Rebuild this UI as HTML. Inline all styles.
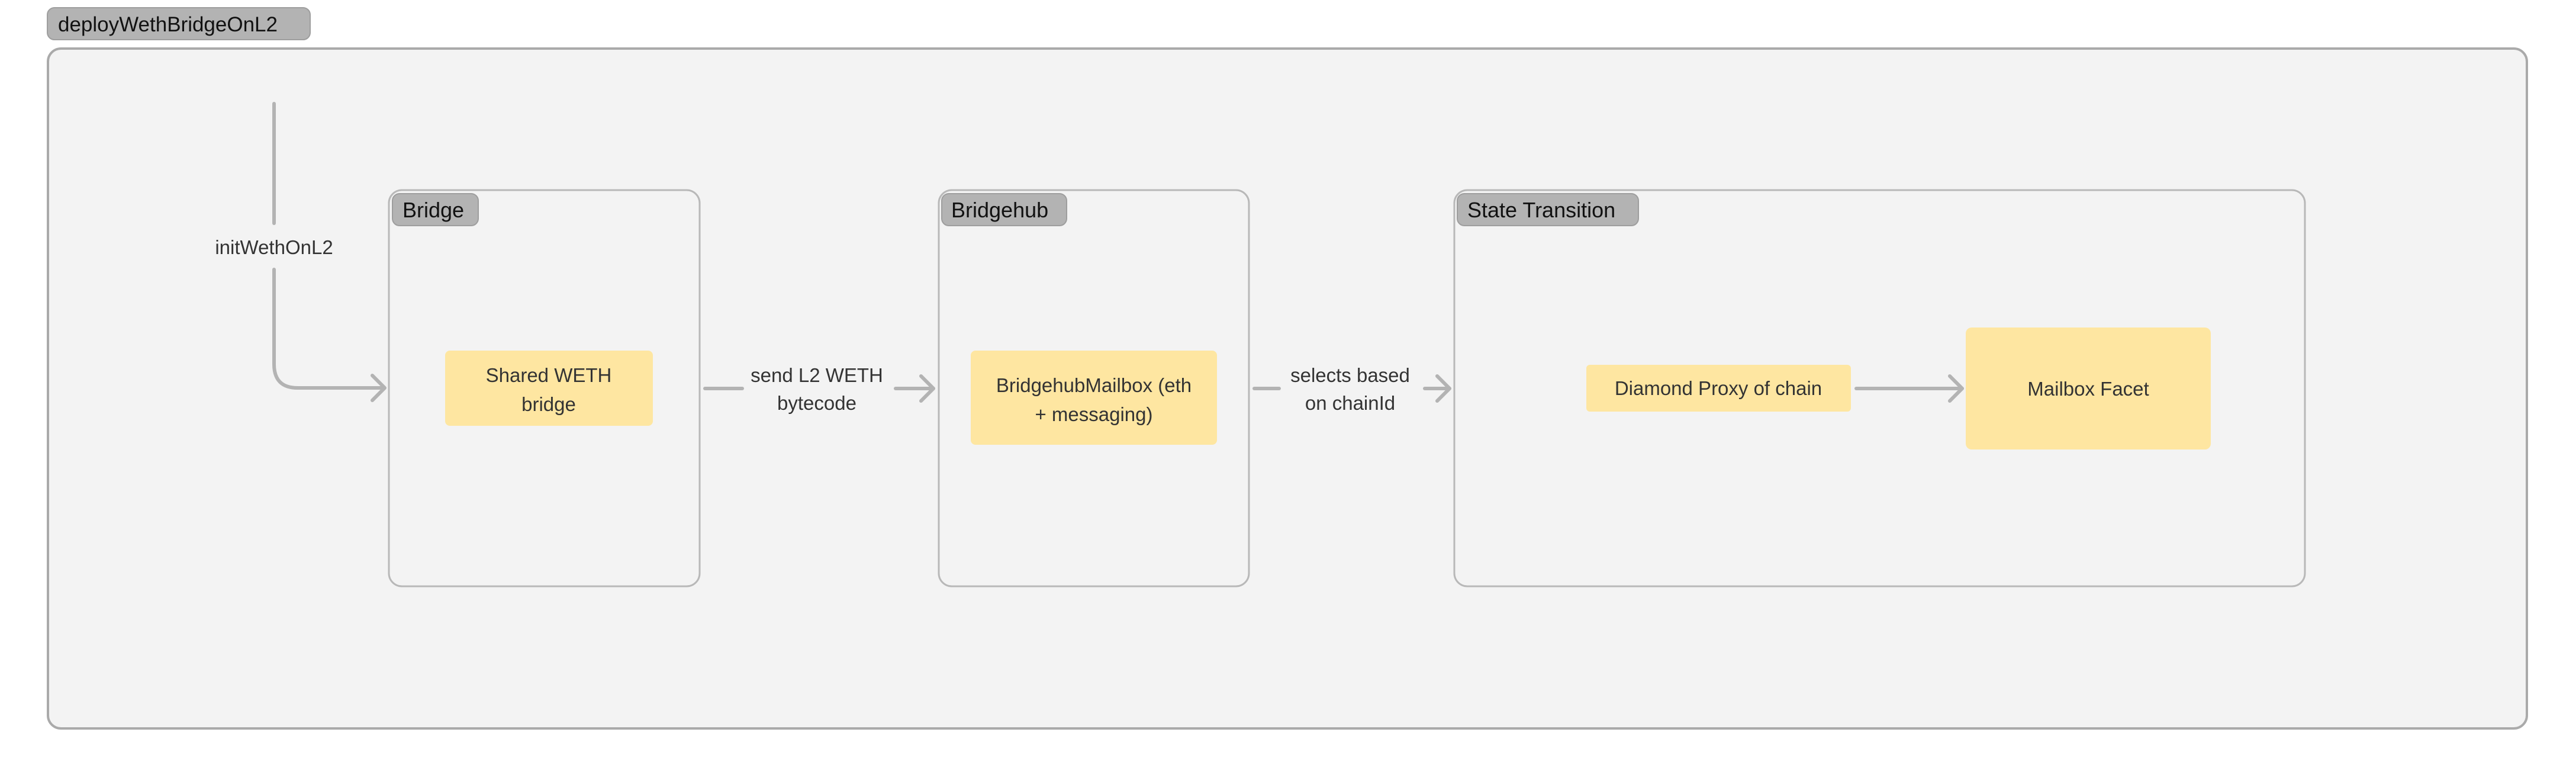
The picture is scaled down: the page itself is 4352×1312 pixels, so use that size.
<!DOCTYPE html>
<html><head><meta charset="utf-8"><style>
html,body{margin:0;padding:0;background:#fff;}
svg{display:block;}
text{font-family:"Liberation Sans",sans-serif;fill:#333;}
</style></head><body>
<svg width="4352" height="1312" viewBox="0 0 4352 1312" xmlns="http://www.w3.org/2000/svg">
<rect x="81" y="82" width="4188" height="1148" rx="22" fill="#f3f3f3" stroke="#aaaaaa" stroke-width="4"/>
<rect x="80" y="13" width="444" height="54" rx="12" fill="#b3b3b3" stroke="#9e9e9e" stroke-width="2"/>
<text x="98" y="53" font-size="35" style="fill:#111">deployWethBridgeOnL2</text>

<rect x="657" y="321" width="525" height="669" rx="22" fill="#f3f3f3" stroke="#b8b8b8" stroke-width="3"/>
<rect x="663" y="327" width="145" height="54" rx="12" fill="#b3b3b3" stroke="#9e9e9e" stroke-width="2"/>
<text x="680" y="367" font-size="36" style="fill:#111">Bridge</text>

<rect x="1586" y="321" width="524" height="669" rx="22" fill="#f3f3f3" stroke="#b8b8b8" stroke-width="3"/>
<rect x="1591" y="327" width="211" height="54" rx="12" fill="#b3b3b3" stroke="#9e9e9e" stroke-width="2"/>
<text x="1607" y="367" font-size="36" style="fill:#111">Bridgehub</text>

<rect x="2457" y="321" width="1437" height="669" rx="22" fill="#f3f3f3" stroke="#b8b8b8" stroke-width="3"/>
<rect x="2462" y="327" width="306" height="54" rx="12" fill="#b3b3b3" stroke="#9e9e9e" stroke-width="2"/>
<text x="2479" y="367" font-size="36" style="fill:#111">State Transition</text>

<rect x="752" y="592" width="351" height="127" rx="8" fill="#fee6a1"/>
<text x="927" y="645" font-size="33" text-anchor="middle">Shared WETH</text>
<text x="927" y="694" font-size="33" text-anchor="middle">bridge</text>

<rect x="1640" y="592" width="416" height="159" rx="8" fill="#fee6a1"/>
<text x="1848" y="662" font-size="33" text-anchor="middle">BridgehubMailbox (eth</text>
<text x="1848" y="711" font-size="33" text-anchor="middle">+ messaging)</text>

<rect x="2680" y="616" width="447" height="79" rx="6" fill="#fee6a1"/>
<text x="2903" y="667" font-size="33" text-anchor="middle">Diamond Proxy of chain</text>

<rect x="3321" y="553" width="414" height="206" rx="10" fill="#fee6a1"/>
<text x="3528" y="668" font-size="33" text-anchor="middle">Mailbox Facet</text>

<g fill="none" stroke="#b3b3b3" stroke-width="6" stroke-linecap="round" stroke-linejoin="round">
<path d="M463 175 L463 377"/>
<path d="M463 455 L463 615 Q463 655 503 655 L649 655"/>
<path d="M629 634 L650 655 L629 676"/>
<path d="M1191 656 L1254 656"/>
<path d="M1513 656 L1577 656"/>
<path d="M1556 635 L1577 656 L1556 677"/>
<path d="M2119 656 L2161 656"/>
<path d="M2407 656 L2449 656"/>
<path d="M2428 635 L2449 656 L2428 677"/>
<path d="M3136 656 L3315 656"/>
<path d="M3294 635 L3315 656 L3294 677"/>
</g>

<text x="463" y="429" font-size="33" text-anchor="middle">initWethOnL2</text>
<text x="1380" y="645" font-size="33" text-anchor="middle">send L2 WETH</text>
<text x="1380" y="692" font-size="33" text-anchor="middle">bytecode</text>
<text x="2281" y="645" font-size="33" text-anchor="middle">selects based</text>
<text x="2281" y="692" font-size="33" text-anchor="middle">on chainId</text>
</svg>
</body></html>
